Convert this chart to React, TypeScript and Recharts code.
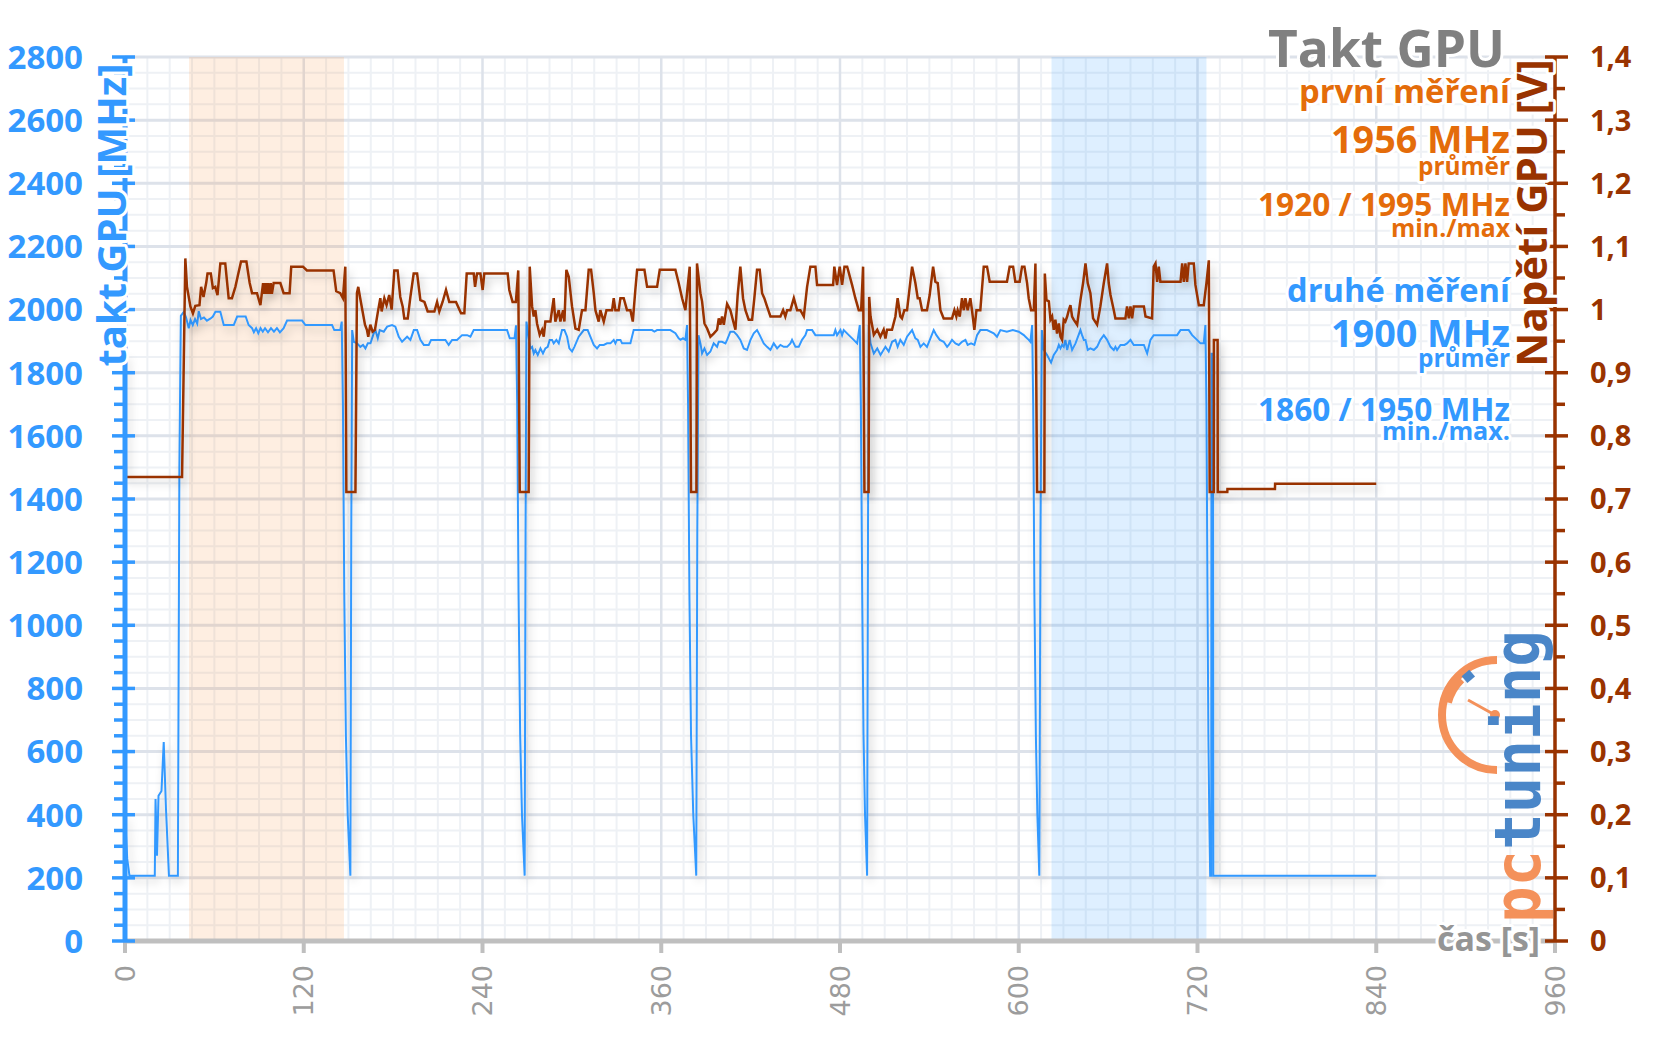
import React from 'react';
import { ComposedChart, Line, XAxis, YAxis, ReferenceLine, ReferenceArea } from 'recharts';

const CHART_W = 1640;
const CHART_H = 1028;

const BLUE = '#3399ff';
const BROWN = '#993300';
const ORANGE = '#e46c0a';

// axis tick labels
const timeTicks = [0, 120, 240, 360, 480, 600, 720, 840, 960];
const clockTicks = [0, 200, 400, 600, 800, 1000, 1200, 1400, 1600, 1800, 2000, 2200, 2400, 2600, 2800];
const voltTicks = [0, 0.1, 0.2, 0.3, 0.4, 0.5, 0.6, 0.7, 0.8, 0.9, 1.0, 1.1, 1.2, 1.3, 1.4];

// highlighted measurement windows [s]
const firstWindow = [43, 147];
const secondWindow = [622, 726];

// second measurement: GPU clock [s, MHz]
const clockSecondRun: number[][] = [
  [0, 400], [1.5, 260], [3, 207], [20, 207], [20.5, 450], [21.5, 270], [22.5, 460], [24.5, 475], [26, 630], [27.5, 420], [29.5, 207], [35.5, 207], [36.5, 1500], [37.5, 1980],
  [39.5, 1993], [41, 1975], [42.8, 1941], [44, 1967], [45.5, 1951], [47, 1970], [48.5, 1955], [49.5, 1995], [51, 1970], [53, 1975], [55, 1965], [57.5, 1972], [59, 1978], [60.7, 1993], [64, 1993], [66.3, 1951], [73, 1951], [75.3, 1978], [81, 1978], [83, 1951], [85.3, 1941], [86.5, 1928], [88, 1941], [89.5, 1925], [91, 1941], [92.5, 1930], [94, 1941], [96, 1928], [98, 1941], [100, 1930], [102, 1941], [104, 1928], [106.5, 1941], [108.8, 1965], [118.9, 1965], [121.1, 1951], [139, 1951], [140.5, 1935], [144.5, 1935], [145.5, 1962],
  [146.3, 1700], [147.2, 1100], [148.3, 650], [149.5, 400], [151.3, 207], [151.9, 1300], [152.5, 1935],
  [153.6, 1898], [155.8, 1893], [158, 1882], [159.8, 1888], [161.4, 1877], [163, 1893], [164.8, 1893], [167, 1925], [168.1, 1935], [169.7, 1909], [171, 1935], [173.7, 1930], [176, 1946], [179.3, 1951], [181.5, 1946], [183.8, 1914], [186, 1898], [189.4, 1914], [191.6, 1904], [193.9, 1935], [196.1, 1935], [198.3, 1904], [200.6, 1888], [203.9, 1888], [205.5, 1904], [215.1, 1904], [217.3, 1888], [219.6, 1904], [222.9, 1904], [226.3, 1919], [229.7, 1919], [231.9, 1914], [234.1, 1935], [254.3, 1935], [256.5, 1935], [258.3, 1909], [261.5, 1909], [262.5, 1950],
  [263.3, 1700], [264.2, 1100], [265.3, 650], [266.5, 400], [268.3, 207], [268.9, 1300], [269.5, 1962],
  [272.1, 1877], [273.3, 1882], [274.4, 1861], [275.5, 1872], [277.1, 1856], [278.9, 1877], [280.6, 1861], [282.2, 1877], [283.8, 1882], [285.1, 1904], [286.7, 1904], [287.8, 1893], [289.6, 1904], [291.2, 1893], [293.4, 1935], [295, 1935], [296.8, 1914], [298.3, 1877], [300.1, 1867], [301.7, 1882], [304.6, 1914], [308, 1935], [310.6, 1935], [312.4, 1914], [314.7, 1888], [316.9, 1877], [318.7, 1888], [321.4, 1888], [323.6, 1893], [325.9, 1893], [328.1, 1904], [329.2, 1893], [330.3, 1904], [332.6, 1904], [333.7, 1893], [339.3, 1893], [341.5, 1935], [353.8, 1935], [355.4, 1930], [357.2, 1935], [366.1, 1935], [369.5, 1925], [371.7, 1909], [372.9, 1904], [374.6, 1909], [376.2, 1904], [377.3, 1951],
  [378, 1700], [378.9, 1100], [380, 650], [381.5, 400], [383.5, 207], [384.2, 1300], [385, 1919],
  [386.3, 1893], [387.4, 1861], [389, 1877], [390.8, 1856], [393, 1867], [395.2, 1893], [397.5, 1882], [398.6, 1898], [400.8, 1898], [403.1, 1893], [404.2, 1904], [406.4, 1930], [408.7, 1930], [410.9, 1919], [413.1, 1904], [415.4, 1877], [417.6, 1872], [419.9, 1904], [422.1, 1925], [424.3, 1935], [426.1, 1919], [428.8, 1893], [431, 1882], [433.3, 1872], [435.5, 1893], [437.8, 1877], [440, 1888], [442.2, 1882], [444.5, 1882], [446.7, 1893], [447.8, 1904], [450.1, 1882], [452.3, 1882], [454.5, 1904], [456.8, 1919], [457.9, 1935], [461.3, 1935], [463.5, 1919], [475.8, 1919], [476.9, 1935], [478, 1919], [480.3, 1935], [481.4, 1919], [482.5, 1935], [485.9, 1919], [489.2, 1904], [491.5, 1893], [493.3, 1951],
  [494, 1700], [494.9, 1100], [495.8, 650], [496.8, 400], [498.2, 207], [498.8, 1300], [499.3, 1951],
  [500.5, 1893], [502.7, 1861], [505, 1877], [507.2, 1856], [510.5, 1882], [512.7, 1867], [515, 1898], [517.2, 1904], [518.7, 1882], [520.5, 1904], [522.8, 1888], [525, 1914], [528.4, 1935], [530.6, 1909], [532.2, 1904], [534, 1882], [536.2, 1893], [538.4, 1882], [540.7, 1909], [542.9, 1935], [544.7, 1919], [547, 1904], [549.6, 1898], [551.9, 1882], [553, 1888], [555.2, 1904], [557.5, 1893], [559.7, 1888], [561.9, 1898], [564.2, 1904], [565.7, 1888], [568, 1893], [570.2, 1888], [572, 1919], [574.2, 1935], [578.7, 1935], [583.2, 1925], [585.4, 1914], [587.7, 1935], [592, 1930], [596, 1935], [600, 1930], [603.4, 1919], [604.5, 1914], [606.7, 1904], [607.8, 1898], [609, 1951],
  [609.7, 1700], [610.5, 1100], [611.5, 650], [612.5, 400], [613.8, 207], [614.6, 1300], [615.5, 1935],
  [616.8, 1872], [619, 1856], [621.7, 1832], [623.5, 1856], [625.7, 1872], [626.9, 1888], [628, 1877], [629.1, 1888], [630.2, 1882], [631.3, 1904], [632.5, 1872], [634.2, 1904], [635.8, 1872], [638.1, 1893], [641.4, 1935], [642.5, 1919], [643.7, 1904], [644.8, 1904], [646.3, 1872], [648.1, 1877], [650.4, 1872], [652.6, 1882], [654.8, 1904], [657.1, 1919], [659.3, 1904], [661.6, 1882], [663.8, 1872], [664.9, 1882], [666, 1872], [668.3, 1888], [671, 1888], [672.7, 1893], [675, 1904], [677.2, 1888], [684, 1888], [686.2, 1861], [688.4, 1904], [690.6, 1919], [706.3, 1919], [708.6, 1935], [714.1, 1935], [716.4, 1919], [719.7, 1904], [722, 1893], [724.2, 1893], [725.3, 1951],
  [726, 1700], [726.7, 1100], [727.3, 650], [727.9, 400], [728.5, 207], [729.2, 207], [729.4, 1860], [730.4, 1860], [730.6, 207], [840, 207],
];

// GPU voltage [s, V]
const gpuVoltage: number[][] = [
  [0, 0.93], [0.6, 0.735], [38.3, 0.735], [40.5, 1.081], [41.6, 1.036], [43.9, 1.005], [45.6, 0.994], [47.2, 1.006], [50, 1.007], [51.1, 1.036], [52.7, 1.02], [54.5, 1.042], [55.4, 1.057], [57.6, 1.057], [59, 1.034], [60.6, 1.036], [62.1, 1.023], [64, 1.073], [67.3, 1.073], [69.6, 1.018], [71.8, 1.018], [74.1, 1.036], [75.6, 1.052], [77.9, 1.076], [81.5, 1.076], [83.7, 1.042], [85.3, 1.026], [88.6, 1.026], [90.9, 1.007], [92.7, 1.042], [93.5, 1.025], [94.3, 1.042], [95.2, 1.025], [96, 1.042], [96.9, 1.025], [97.8, 1.042], [98.6, 1.025], [99.8, 1.042], [104.3, 1.042], [106.5, 1.026], [110.5, 1.026], [111.6, 1.068], [119.5, 1.068], [122.1, 1.062], [140, 1.062], [141.8, 1.029], [144.5, 1.026], [146.3, 1.018], [147.9, 1.068], [148.6, 0.711], [154.7, 0.711],
  [155.7, 1.026], [156.6, 1.036], [157.9, 1.018], [159.5, 0.997], [161.1, 0.976], [162.4, 0.968], [163.3, 0.957], [164.7, 0.976], [166.2, 0.965], [167.8, 0.968], [169.6, 0.994], [171.4, 1.018], [172.3, 0.997], [174.1, 1.018], [175.6, 1.007], [177.4, 1.023], [179, 1.0], [180.8, 1.062], [183, 1.062], [184.8, 1.02], [186.4, 1.005], [187.5, 0.986], [189.8, 0.986], [191.6, 1.02], [193.8, 1.057], [196.1, 1.057], [198.3, 1.015], [201, 1.012], [203.2, 0.997], [207.7, 0.997], [209.5, 1.012], [211, 0.997], [213.2, 1.012], [215.5, 1.031], [217.7, 1.012], [222.2, 1.012], [225.6, 0.994], [227.8, 0.994], [229.4, 1.057], [234.1, 1.057], [235, 1.036], [236.3, 1.057], [238.6, 1.057], [240.1, 1.031], [241.2, 1.057], [256.9, 1.057], [258, 1.031], [260.2, 1.012], [262.4, 1.012], [264, 1.062], [265, 0.711], [271, 0.711],
  [271.7, 1.068], [273.3, 1.005], [274.4, 0.989], [275.5, 0.999], [276.6, 0.978], [278.4, 0.96], [280, 0.968], [281.1, 0.957], [282.2, 0.981], [285.6, 0.981], [287.8, 1.018], [288.9, 0.981], [291.2, 0.999], [292.3, 0.981], [294.1, 0.999], [295, 0.981], [296.3, 1.063], [297.9, 1.052], [300.1, 1.005], [302.4, 0.97], [304.6, 0.968], [306.8, 0.999], [309.1, 0.999], [311.3, 1.063], [312.9, 1.063], [314.7, 1.026], [315.8, 0.999], [318, 0.981], [319.1, 0.999], [321.4, 0.981], [323.2, 0.999], [327, 0.999], [328.1, 1.018], [329.2, 0.999], [331.4, 0.999], [332.6, 1.018], [334.8, 1.018], [337, 0.999], [339.3, 0.999], [340.9, 0.981], [342.6, 1.031], [343.8, 1.063], [348.7, 1.063], [350.5, 1.036], [357.2, 1.036], [359, 1.063], [369.5, 1.063], [371.7, 1.042], [374, 1.018], [376.2, 0.999], [377.3, 1.026], [379.1, 1.068], [380, 0.711], [383.6, 0.711],
  [384, 1.073], [386.3, 1.026], [387.4, 1.013], [389, 0.978], [390.8, 0.97], [393, 0.957], [395.2, 0.962], [397.5, 0.968], [398.6, 0.986], [399.7, 0.976], [400.8, 0.989], [402, 0.976], [404.2, 1.009], [406.4, 0.999], [408.7, 0.978], [409.8, 0.968], [411.3, 1.023], [413.1, 1.068], [414.9, 1.018], [416.5, 0.999], [418.7, 0.984], [421, 0.984], [422.5, 1.018], [424.3, 1.063], [426.1, 1.063], [427.7, 1.026], [429.2, 1.018], [431, 1.005], [433.3, 0.989], [440, 0.989], [441.8, 0.999], [443.3, 0.989], [444.5, 0.999], [446.7, 0.999], [449, 1.018], [451.2, 0.999], [453.4, 0.999], [455.7, 0.989], [457.9, 1.036], [460.1, 1.068], [463.5, 1.068], [464.6, 1.039], [475.4, 1.039], [476.2, 1.068], [478, 1.039], [479.8, 1.068], [481.4, 1.039], [483, 1.068], [484.8, 1.068], [488.1, 1.039], [490.3, 1.018], [492.6, 0.999], [494.2, 0.999], [495.5, 1.068], [496.4, 0.711], [499.2, 0.711],
  [499.6, 1.02], [500.5, 0.989], [502.7, 0.96], [505, 0.968], [507.1, 0.957], [509.3, 0.968], [510.5, 0.954], [511.6, 0.968], [514.9, 0.968], [517.2, 0.989], [518.7, 1.018], [520.5, 0.989], [521.6, 0.986], [523.2, 0.999], [525, 0.999], [528.4, 1.068], [530.6, 1.042], [532.2, 1.018], [533.5, 1.018], [535.1, 0.999], [538.4, 0.999], [540.2, 1.023], [542.5, 1.068], [544, 1.044], [545.6, 1.042], [547.4, 0.999], [549.6, 0.986], [555.2, 0.986], [556.8, 0.999], [558.1, 0.989], [559, 0.999], [560.4, 0.989], [561.9, 1.018], [563.1, 0.999], [564.2, 1.018], [565.7, 0.999], [567.5, 1.018], [568.6, 0.999], [570.2, 0.968], [571.6, 0.999], [574.2, 0.999], [576.5, 1.068], [578.7, 1.068], [580.5, 1.044], [592.1, 1.044], [593.9, 1.068], [596.2, 1.068], [597.7, 1.044], [600.6, 1.044], [602.2, 1.068], [603.8, 1.068], [605.6, 1.042], [606.7, 1.018], [608.3, 0.999], [610.1, 0.999], [611.2, 1.073], [612.3, 0.711], [617.2, 0.711],
  [617.5, 1.057], [618.6, 1.015], [620.2, 1.013], [621.3, 0.984], [622.4, 0.989], [623.5, 0.968], [624.6, 0.984], [625.7, 0.962], [626.9, 0.978], [628, 0.957], [629.1, 0.952], [630.2, 0.984], [631.3, 0.981], [632.5, 0.989], [633.6, 0.999], [634.7, 1.007], [635.8, 0.989], [636.9, 0.984], [639.2, 0.976], [641.4, 1.015], [643.2, 1.042], [644.8, 1.073], [646.3, 1.042], [648.1, 1.026], [649.9, 0.986], [652.6, 0.976], [654.8, 1.005], [657.1, 1.042], [659.3, 1.073], [660.4, 1.042], [661.6, 1.023], [663.8, 0.999], [664.9, 0.986], [671.6, 0.986], [672.7, 1.005], [673.9, 0.986], [675, 1.005], [676.1, 0.986], [677.2, 1.005], [684, 1.005], [685.1, 0.989], [689.5, 0.986], [690.6, 1.068], [691.8, 1.073], [692.9, 1.044], [694, 1.068], [695.1, 1.044], [708.6, 1.044], [709.7, 1.073], [710.8, 1.044], [711.9, 1.073], [713, 1.044], [714.1, 1.073], [717.5, 1.073], [718.6, 1.039], [720.9, 1.007], [724.2, 1.007], [726, 1.042], [727.6, 1.078], [728.2, 0.711], [730.9, 0.711], [731, 0.952], [733.5, 0.952], [733.6, 0.711], [740, 0.711], [740.1, 0.716], [772, 0.716], [772.1, 0.724], [840, 0.724],
];

const clockData = clockSecondRun.map(([t, v]) => ({ t, mhz: v }));
const voltData = gpuVoltage.map(([t, v]) => ({ t, volt: v }));

// axis / grid subdivisions
const clockAllTicks = Array.from({ length: 57 }, (_, i) => i * 50);
const voltAllTicks = Array.from({ length: 29 }, (_, i) => Math.round(i * 5) / 100);
const clockMinor = clockAllTicks.filter((v) => v % 200 !== 0);
const timeMinor = Array.from({ length: 65 }, (_, i) => i * 15).filter((v) => v % 120 !== 0);

const LeftTick = (props: any) => {
  const { x, y, payload } = props;
  const v = payload.value;
  const major = v % 200 === 0;
  return (
    <g>
      {major ? (
        <line x1={x - 13} x2={x + 10} y1={y} y2={y} stroke={BLUE} strokeWidth={3.5} />
      ) : (
        <line x1={x - 11} x2={x} y1={y} y2={y} stroke={BLUE} strokeWidth={3.5} />
      )}
      {major && (
        <text x={x - 42} y={y} dy="0.36em" textAnchor="end" fontFamily="'Open Sans'" fontWeight={700} fontSize={33} fill={BLUE}>
          {v}
        </text>
      )}
    </g>
  );
};

const RightTick = (props: any) => {
  const { x, y, payload } = props;
  const v = payload.value;
  const major = Math.round(v * 100) % 10 === 0;
  const label = String(Math.round(v * 10) / 10).replace('.', ',');
  return (
    <g>
      {major ? (
        <line x1={x - 10} x2={x + 13} y1={y} y2={y} stroke={BROWN} strokeWidth={3.5} />
      ) : (
        <line x1={x + 1} x2={x + 10} y1={y} y2={y} stroke={BROWN} strokeWidth={3.5} />
      )}
      {major && (
        <text x={x + 35} y={y} dy="0.36em" textAnchor="start" fontFamily="'Open Sans'" fontWeight={700} fontSize={29} fill={BROWN}>
          {label}
        </text>
      )}
    </g>
  );
};

const TimeTick = (props: any) => {
  const { x, y, payload } = props;
  const ly = y + 24;
  return (
    <g>
      <line x1={x} x2={x} y1={y} y2={y + 12} stroke="#bfbfbf" strokeWidth={4} />
      <text x={x} y={ly} transform={`rotate(-90 ${x} ${ly})`} textAnchor="end" dy="0.36em" fontFamily="'DejaVu Sans'" fontSize={27} fill="#9c9c9c">
        {payload.value}
      </text>
    </g>
  );
};

const halo = { stroke: '#ffffff', strokeWidth: 6, strokeLinejoin: 'round' as const, paintOrder: 'stroke' as const };

const Overlay = () => (
  <svg width={CHART_W} height={CHART_H} style={{ position: 'absolute', left: 0, top: 0, pointerEvents: 'none' }}>
    <defs>
      <filter id="lineShadow" x="-5%" y="-5%" width="110%" height="110%">
        <feDropShadow dx="3" dy="5" stdDeviation="4" floodColor="#000000" floodOpacity="0.22" />
      </filter>
    </defs>
    <g fontFamily="'Open Sans'" fontWeight={700} textAnchor="end" style={halo}>
      <text x={1497} y={59} fontSize={52} fill="#808080" textLength={237} lengthAdjust="spacingAndGlyphs">Takt GPU</text>
      <text x={1502} y={95} fontSize={33} fill={ORANGE} textLength={211} lengthAdjust="spacingAndGlyphs">první měření</text>
      <text x={1502} y={145} fontSize={38} fill={ORANGE} textLength={179} lengthAdjust="spacingAndGlyphs">1956 MHz</text>
      <text x={1502} y={167} fontSize={24.5} fill={ORANGE} textLength={92} lengthAdjust="spacingAndGlyphs">průměr</text>
      <text x={1502} y={208} fontSize={31.5} fill={ORANGE} textLength={252} lengthAdjust="spacingAndGlyphs">1920 / 1995 MHz</text>
      <text x={1502} y={229} fontSize={25} fill={ORANGE} textLength={119} lengthAdjust="spacingAndGlyphs">min./max</text>
      <text x={1502} y={294} fontSize={33} fill={BLUE} textLength={223} lengthAdjust="spacingAndGlyphs">druhé měření</text>
      <text x={1502} y={339} fontSize={38} fill={BLUE} textLength={179} lengthAdjust="spacingAndGlyphs">1900 MHz</text>
      <text x={1502} y={359} fontSize={24.5} fill={BLUE} textLength={92} lengthAdjust="spacingAndGlyphs">průměr</text>
      <text x={1502} y={413} fontSize={31.5} fill={BLUE} textLength={252} lengthAdjust="spacingAndGlyphs">1860 / 1950 MHz</text>
      <text x={1502} y={432} fontSize={25} fill={BLUE} textLength={128} lengthAdjust="spacingAndGlyphs">min./max.</text>
      <text x={1532} y={943} fontSize={34} fill="#959595" textLength={103} lengthAdjust="spacingAndGlyphs">čas [s]</text>
    </g>
    <text x={118} y={207} transform="rotate(-90 118 207)" textAnchor="middle" fontFamily="'Open Sans'" fontWeight={700} fontSize={40} fill={BLUE} style={halo}>
      takt GPU [MHz]
    </text>
    <text x={1539} y={205} transform="rotate(-90 1539 205)" textAnchor="middle" fontFamily="'Open Sans'" fontWeight={700} fontSize={42} fill={BROWN} style={halo}>
      Napětí GPU [V]
    </text>
    {/* pctuning logo */}
    <g>
      <path d="M 1489 652 A 55 55 0 0 0 1489 762" stroke="#f4915a" strokeWidth={8} fill="none" />
      <path d="M 1438 694 A 52 52 0 0 1 1452 670" stroke="#f4915a" strokeWidth={12} fill="none" />
      <rect x={1455} y={664} width={10} height={9} fill="#4a86c8" transform="rotate(-40 1460 668)" />
      <line x1={1460} y1={692} x2={1487} y2={707} stroke="#f4915a" strokeWidth={3} />
      <circle cx={1487} cy={707} r={5} fill="#f4915a" />
      <text x={1532} y={915} transform="rotate(-90 1532 915)" fontFamily="'DejaVu Sans Mono'" fontWeight={700} fontSize={64} textLength={293} lengthAdjust="spacingAndGlyphs">
        <tspan fill="#f4915a">pc</tspan>
        <tspan fill="#4a86c8">tuning</tspan>
      </text>
    </g>
  </svg>
);

export default function App() {
  return (
    <div style={{ position: 'relative', width: CHART_W, height: CHART_H }}>
      <style>{`.recharts-line-curve { filter: url(#lineShadow); }`}</style>
      <ComposedChart width={CHART_W} height={CHART_H} margin={{ top: 49, right: 0, bottom: 0, left: 0 }}>
        <XAxis
          xAxisId="x"
          type="number"
          dataKey="t"
          domain={[0, 960]}
          ticks={timeTicks}
          interval={0}
          allowDataOverflow
          height={95}
          tickSize={0}
          tickMargin={0}
          tickLine={false}
          axisLine={{ stroke: '#bfbfbf', strokeWidth: 5 }}
          tick={<TimeTick />}
        />
        <YAxis
          yAxisId="left"
          orientation="left"
          type="number"
          width={117}
          domain={[0, 2800]}
          ticks={clockAllTicks}
          interval={0}
          allowDataOverflow
          tickSize={0}
          tickMargin={0}
          tickLine={false}
          axisLine={{ stroke: BLUE, strokeWidth: 5 }}
          tick={<LeftTick />}
        />
        <YAxis
          yAxisId="right"
          orientation="right"
          type="number"
          width={93}
          domain={[0, 1.4]}
          ticks={voltAllTicks}
          interval={0}
          allowDataOverflow
          tickSize={0}
          tickMargin={0}
          tickLine={false}
          axisLine={{ stroke: BROWN, strokeWidth: 3.5 }}
          tick={<RightTick />}
        />
        {clockMinor.map((v) => (
          <ReferenceLine key={'hm' + v} xAxisId="x" yAxisId="left" y={v} stroke="#eef1f5" strokeWidth={2} zIndex={-60} />
        ))}
        {timeMinor.map((v) => (
          <ReferenceLine key={'vm' + v} xAxisId="x" yAxisId="left" x={v} stroke="#eef1f5" strokeWidth={2} zIndex={-60} />
        ))}
        {clockTicks.map((v) => (
          <ReferenceLine key={'hM' + v} xAxisId="x" yAxisId="left" y={v} stroke="#dde2ea" strokeWidth={3} zIndex={-50} />
        ))}
        {timeTicks.map((v) => (
          <ReferenceLine key={'vM' + v} xAxisId="x" yAxisId="left" x={v} stroke="#dde2ea" strokeWidth={2.5} zIndex={-50} />
        ))}
        <ReferenceArea xAxisId="x" yAxisId="left" x1={firstWindow[0]} x2={firstWindow[1]} y1={0} y2={2800} fill="#f79646" fillOpacity={0.16} stroke="none" zIndex={-40} />
        <ReferenceArea xAxisId="x" yAxisId="left" x1={secondWindow[0]} x2={secondWindow[1]} y1={0} y2={2800} fill="#3399ff" fillOpacity={0.16} stroke="none" zIndex={-40} />
        <Line
          data={clockData}
          xAxisId="x"
          yAxisId="left"
          dataKey="mhz"
          type="linear"
          dot={false}
          activeDot={false}
          stroke={BLUE}
          strokeWidth={2}
          isAnimationActive={false}
        />
        <Line
          data={voltData}
          xAxisId="x"
          yAxisId="right"
          dataKey="volt"
          type="linear"
          dot={false}
          activeDot={false}
          stroke={BROWN}
          strokeWidth={2.5}
          isAnimationActive={false}
        />
      </ComposedChart>
      <Overlay />
    </div>
  );
}
